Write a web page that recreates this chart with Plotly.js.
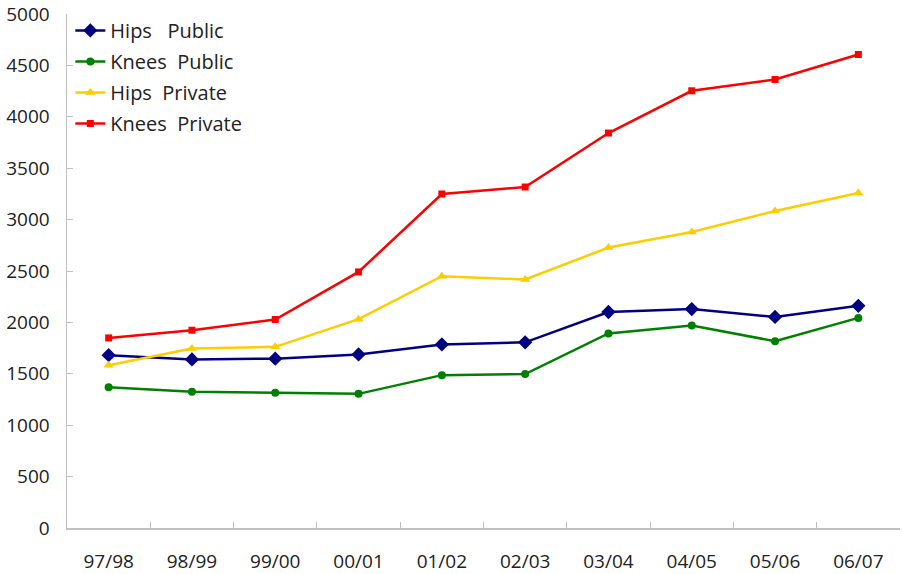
<!DOCTYPE html>
<html><head><meta charset="utf-8">
<script src="https://cdn.plot.ly/plotly-3.0.1.min.js"></script>
<style>html,body{margin:0;padding:0;background:#fff}#chart{width:902px;height:574px}</style>
</head><body><div id="chart"></div>
<script>
const categories = ["97/98","98/99","99/00","00/01","01/02","02/03","03/04","04/05","05/06","06/07"];
const hipsPublic   = [1681,1640,1647,1688,1786,1806,2101,2130,2053,2161];
const kneesPublic  = [1370,1325,1315,1305,1487,1497,1892,1970,1817,2044];
const hipsPrivate  = [1584,1745,1762,2031,2449,2417,2728,2880,3084,3259];
const kneesPrivate = [1849,1924,2028,2491,3249,3317,3842,4253,4363,4606];
const seriesNames = ["Hips\u00a0\u00a0\u00a0Public","Knees\u00a0\u00a0Public","Hips\u00a0\u00a0Private","Knees\u00a0\u00a0Private"];

const FONT = "'Open Sans', sans-serif";
function tr(name, y, color, symbol, size, grp){
  return {type:'scatter', mode:'lines+markers', x:categories, y:y, name:name,
    legendgroup:grp,
    line:{color:color, width:2.5}, marker:{color:color, symbol:symbol, size:size}};
}
const data = [
  tr(seriesNames[0], hipsPublic, '#000080', 'diamond', 11, 'a'),
  tr(seriesNames[1], kneesPublic, '#008000', 'circle', 8, 'b'),
  tr(seriesNames[2], hipsPrivate, '#FFCC00', 'triangle-up', 9, 'c'),
  tr(seriesNames[3], kneesPrivate, '#FF0000', 'square', 7, 'd')
];
const layout = {
  width:902, height:574,
  margin:{l:67, r:2, t:14, b:46},
  paper_bgcolor:'#fff', plot_bgcolor:'#fff',
  font:{family:FONT, size:19, color:'#222'},
  showlegend:true,
  legend:{x:0.004, y:1.006, xanchor:'left', yanchor:'top', bgcolor:'rgba(0,0,0,0)',
    font:{family:FONT, size:20, color:'#222'}, tracegroupgap:2, traceorder:'grouped'},
  xaxis:{type:'category', range:[-0.5, 9.5], tickson:'boundaries', ticks:'inside', ticklen:6, tickcolor:'#c0c0c0',
    showline:true, linecolor:'#c0c0c0', linewidth:1.5, showgrid:false, zeroline:false,
    ticklabelstandoff:16, tickfont:{family:FONT, size:19, color:'#222'}},
  yaxis:{range:[0,5000], dtick:500, ticks:'inside', ticklen:6, tickcolor:'#c0c0c0',
    showline:true, linecolor:'#c0c0c0', linewidth:1.5, showgrid:false, zeroline:false,
    ticklabelstandoff:12, tickfont:{family:FONT, size:19, color:'#222'}}
};
Plotly.newPlot('chart', data, layout, {displayModeBar:false, staticPlot:true});
</script></body></html>
